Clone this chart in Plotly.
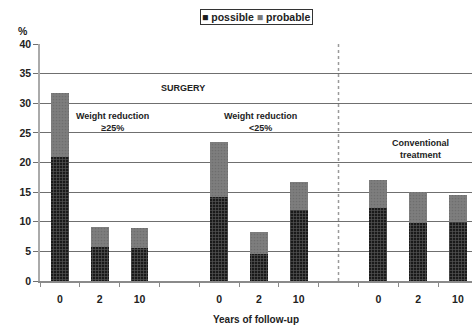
import plotly.graph_objects as go

# Follow-up years for each bar group; gaps separate the three groups
years = ["0", "2", "10", "0", "2", "10", "0", "2", "10"]
positions = [0, 1, 2, 4, 5, 6, 8, 9, 10]

# Prevalence (%) split into possible and probable cases
possible = [20.9, 5.7, 5.6, 14.1, 4.6, 12.0, 12.3, 9.8, 10.0]
probable = [10.9, 3.4, 3.4, 9.4, 3.7, 4.7, 4.7, 5.3, 4.5]

y_ticks = [0, 5, 10, 15, 20, 25, 30, 35, 40]

FONT = "Liberation Sans, Arial, sans-serif"
TXT = "#222222"

fig = go.Figure()

fig.add_trace(go.Bar(
    x=positions, y=possible, name="possible", width=0.45,
    marker=dict(
        color="#1c1c1c",
        line=dict(width=0),
        pattern=dict(shape="+", fgcolor="#555555", bgcolor="#1a1a1a",
                     size=3, solidity=0.4, fillmode="replace"),
    ),
    showlegend=False,
))
fig.add_trace(go.Bar(
    x=positions, y=probable, name="probable", width=0.45,
    marker=dict(
        color="#7a7a7a",
        line=dict(width=0),
        pattern=dict(shape=".", fgcolor="#6e6e6e", bgcolor="#7e7e7e",
                     size=3, solidity=0.25, fillmode="replace"),
    ),
    showlegend=False,
))

# Dotted separator between the surgery and conventional groups
fig.add_shape(type="line", xref="x", yref="y", x0=7, x1=7, y0=0, y1=40,
              line=dict(color="#9a9a9a", width=1.5, dash="dot"), layer="above")

annos = [
    dict(text="SURGERY", x=3.1, y=32.5, size=9),
    dict(text="Weight reduction<br>≥25%", x=1.31, y=26.8, size=9),
    dict(text="Weight reduction<br>&lt;25%", x=5.05, y=26.8, size=9),
    dict(text="Conventional<br>treatment", x=9.05, y=22.3, size=9),
]
for a in annos:
    fig.add_annotation(text=a["text"], x=a["x"], y=a["y"], xref="x", yref="y",
                       showarrow=False, font=dict(family=FONT, size=a["size"],
                                                  color=TXT, weight="bold"))

# Legend box
fig.add_annotation(
    text="<span style='color:#1c1c1c'>■</span> possible "
         "<span style='color:#7a7a7a'>■</span> probable",
    x=0.502, y=1.116, xref="paper", yref="paper", showarrow=False,
    xanchor="center", yanchor="middle",
    font=dict(family=FONT, size=10.5, color=TXT, weight="bold"),
    bordercolor="#333333", borderwidth=1, borderpad=1, bgcolor="white",
)
# Unit label
fig.add_annotation(text="%", x=-0.039, y=1.053, xref="paper", yref="paper",
                   showarrow=False, xanchor="center", yanchor="middle",
                   font=dict(family=FONT, size=10.5, color=TXT, weight="bold"))

fig.update_layout(
    width=472, height=327,
    margin=dict(l=40, r=0, t=44, b=46),
    barmode="stack",
    plot_bgcolor="white", paper_bgcolor="white",
    font=dict(family=FONT, color=TXT),
)

fig.update_xaxes(
    range=[-0.5, 10.354],
    tickmode="array", tickvals=positions, ticktext=years,
    ticks="outside", ticklen=8, tickcolor="rgba(0,0,0,0)",
    tickfont=dict(family=FONT, size=10.5, color=TXT, weight="bold"),
    showgrid=False, zeroline=False,
    showline=True, linecolor="#8a8a8a", linewidth=1.5,
    minor=dict(tickmode="array",
               tickvals=[-0.5, 0.5, 1.5, 2.5, 3.5, 4.5, 5.5, 6.5, 7.5, 8.5, 9.5],
               ticks="outside", ticklen=4, tickcolor="#8a8a8a", tickwidth=1.2,
               showgrid=False),
    title=dict(text="Years of follow-up", standoff=12,
               font=dict(family=FONT, size=10, color=TXT, weight="bold")),
)

fig.update_yaxes(
    range=[0, 40], tickmode="array", tickvals=y_ticks,
    ticks="outside", ticklen=5, tickcolor="#707070",
    tickfont=dict(family=FONT, size=10.5, color=TXT, weight="bold"),
    showgrid=True, gridcolor="#6f6f6f", gridwidth=1.2,
    zeroline=False,
    showline=True, linecolor="#aaaaaa", linewidth=1.5,
)

fig.write_html("out.html")
